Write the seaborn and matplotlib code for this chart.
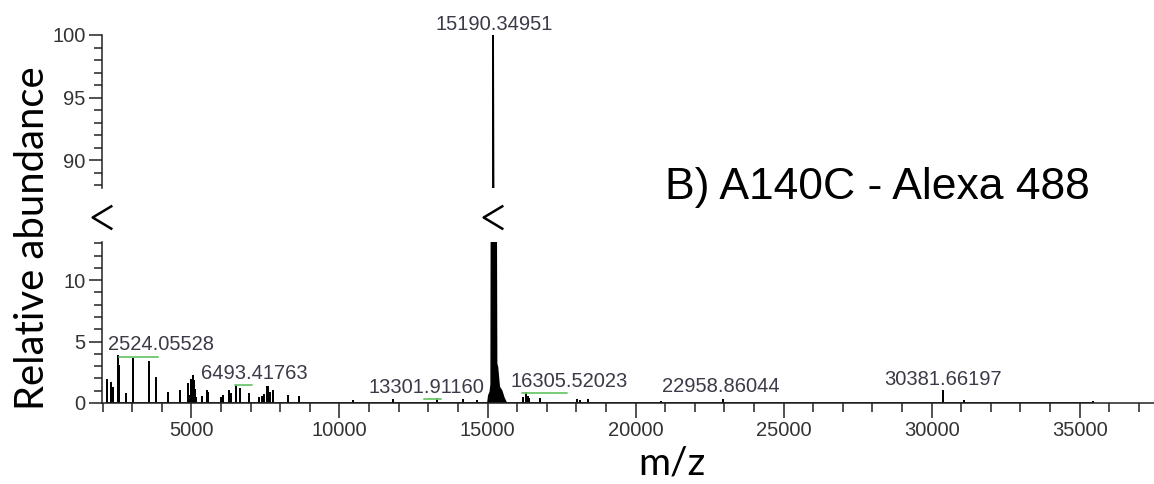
import numpy as np
import matplotlib
matplotlib.use("Agg")
import matplotlib.pyplot as plt
import seaborn as sns
from matplotlib.lines import Line2D
from matplotlib.path import Path
from matplotlib.ticker import MultipleLocator
from matplotlib import transforms

# ---- centroid sticks: m/z and relative abundance (%) ----
peak_mz = [2141, 2280, 2340, 2524.05528, 2568, 2793, 3018, 3580, 3806, 4222,
           4617, 4898, 4935, 4960, 4989, 5010, 5045, 5065, 5079, 5100, 5123,
           5150, 5349, 5518, 5552, 5991, 6079, 6272, 6328, 6493.41763, 6643,
           6947, 7285, 7375, 7454, 7545, 7599, 7640, 7768, 8274, 8646, 10470,
           11820, 13301.91160, 14185, 14657, 16190, 16305.52023, 16360, 16415,
           16775, 18014, 18126, 18406, 20851, 22958.86044, 30381.66197, 31093,
           35450]
peak_int = [1.9, 1.6, 1.25, 3.8, 3.0, 0.75, 3.55, 3.3, 2.05, 0.85,
            1.0, 1.55, 0.5, 0.6, 1.9, 0.7, 2.2, 0.9, 1.75, 0.6, 1.05,
            0.4, 0.5, 0.95, 0.85, 0.4, 0.55, 0.95, 0.75, 1.4, 1.15,
            0.75, 0.4, 0.5, 0.65, 1.27, 1.27, 0.8, 1.0, 0.6, 0.5, 0.2,
            0.25, 0.3, 0.25, 0.2, 0.4, 0.8, 0.5, 0.3,
            0.3, 0.25, 0.2, 0.25, 0.05, 0.25, 1.0, 0.2,
            0.08]

# ---- profile of the dominant deconvoluted peak ----
main_mz = [15010, 15040, 15090, 15120, 15185, 15190.34951, 15196, 15310,
           15340, 15400, 15480, 15560, 15640]
main_int = [0, 0.6, 0.9, 1.5, 99, 100, 99, 3.2, 2.9, 1.3, 1.0, 0.4, 0]

# ---- annotated peaks ----
label_mz = [2524.05528, 6493.41763, 13301.91160, 15190.34951, 16305.52023,
            22958.86044, 30381.66197]
label_x = [3975, 7129, 12925, 15214, 17767, 22887, 30385]
label_y = [4.28, 1.98, 0.83, 100.36, 1.30, 0.89, 1.50]
# character spans carrying a proofing underline
underline_spans = {0: (1, 5), 1: (3, 5), 2: (5, 7), 4: (1, 5)}

x_ticks_major, x_ticks_minor = 5000, 1000
x_range = (1980, 37510)
y_low = (0, 13.1)
y_high = (87.8, 100)

sns.set_style("ticks")
plt.rcParams["font.family"] = ["Liberation Sans", "DejaVu Sans"]

W, H = 1154, 484
fig = plt.figure(figsize=(W / 100, H / 100), dpi=100)
left = 102 / W
ax_top = fig.add_axes([left, 1 - 188 / H, 1 - left, 153 / H])
ax_bot = fig.add_axes([left, 1 - 403 / H, 1 - left, 161 / H])

# stick spectrum as a single polyline through the baseline
stick_x = np.repeat(np.asarray(peak_mz, float), 3)
stick_y = np.column_stack([np.zeros(len(peak_int)), peak_int,
                           np.zeros(len(peak_int))]).ravel()

for ax in (ax_top, ax_bot):
    sns.lineplot(x=stick_x, y=stick_y, sort=False, estimator=None,
                 color="black", lw=1.25, ax=ax)
    ax.fill_between(main_mz, main_int, 0, color="black", lw=0)
    sns.lineplot(x=main_mz, y=main_int, sort=False, estimator=None,
                 color="black", lw=1.0, ax=ax)
    ax.set_xlim(*x_range)
    ax.set_xlabel("")
    ax.set_ylabel("")
    ax.set_facecolor("none")
    for s in ("top", "right"):
        ax.spines[s].set_visible(False)
    ax.spines["left"].set_linewidth(1.1)
    ax.spines["left"].set_color("#222222")
    ax.yaxis.set_major_locator(MultipleLocator(5))
    ax.yaxis.set_minor_locator(MultipleLocator(1))
    ax.tick_params(axis="y", which="major", direction="out", length=9.5,
                   width=1.1, color="#222222", pad=2.2, labelsize=14.5,
                   labelcolor="#333333")
    ax.tick_params(axis="y", which="minor", direction="out", length=6,
                   width=1.1, color="#222222")

ax_top.set_ylim(*y_high)
ax_top.spines["bottom"].set_visible(False)
ax_top.tick_params(axis="x", which="both", bottom=False, labelbottom=False)

ax_bot.set_ylim(*y_low)
ax_bot.spines["bottom"].set_linewidth(1.1)
ax_bot.spines["bottom"].set_color("#222222")
ax_bot.xaxis.set_major_locator(MultipleLocator(x_ticks_major))
ax_bot.xaxis.set_minor_locator(MultipleLocator(x_ticks_minor))
ax_bot.tick_params(axis="x", which="major", direction="out", length=11,
                   width=1.1, color="#222222", pad=1.8, labelsize=14.5,
                   labelcolor="#333333")
ax_bot.tick_params(axis="x", which="minor", direction="out", length=6.5,
                   width=1.1, color="#222222")

# peak annotations
label_texts = []
for i, (mz, lx, ly) in enumerate(zip(label_mz, label_x, label_y)):
    target = ax_top if ly > y_low[1] else ax_bot
    t = target.text(lx, ly, f"{mz:.5f}", ha="center", va="baseline",
                    fontsize=14.5, color="#3a3a48", clip_on=False)
    label_texts.append(t)

# axis-break marks between the two panels
break_path = Path([(0.5, 0.6), (-0.5, 0.0), (0.5, -0.6)],
                  [Path.MOVETO, Path.LINETO, Path.LINETO])
y_gap = 0.5 * (ax_bot.get_position().y1 + ax_top.get_position().y0) - 2 / H
blend = transforms.blended_transform_factory(ax_bot.transData, fig.transFigure)
for xb in (x_range[0], main_mz[int(np.argmax(main_int))]):
    fig.add_artist(Line2D([xb], [y_gap], transform=blend, marker=break_path,
                          markersize=17, markerfacecolor="none",
                          markeredgecolor="black", markeredgewidth=1.8,
                          linestyle="none"))

# panel caption and axis titles
fig.text(877 / W, 1 - 187 / H, "B) A140C - Alexa 488", ha="center",
         va="center", fontsize=32, color="black")
fig.text(33 / W, 1 - 238.5 / H, "Relative abundance", rotation=90,
         ha="center", va="center", fontsize=28.8, family=["Lato", "DejaVu Sans"],
         color="black")
fig.text(672 / W, 1 - 463 / H, "m/z", ha="center", va="center", fontsize=28,
         family=["Lato", "DejaVu Sans"], color="black")

# green proofing underlines beneath parts of some annotations
fig.canvas.draw()
renderer = fig.canvas.get_renderer()
for idx, (c0, c1) in underline_spans.items():
    t = label_texts[idx]
    s = t.get_text()
    bb = t.get_window_extent(renderer)
    prop = t.get_fontproperties()
    w0 = renderer.get_text_width_height_descent(s[:c0], prop, ismath=False)[0] if c0 else 0
    w1 = renderer.get_text_width_height_descent(s[:c1], prop, ismath=False)[0]
    _, _, desc = renderer.get_text_width_height_descent(s, prop, ismath=False)
    yb = bb.y0 + desc - 2.4
    fig.add_artist(Line2D([bb.x0 + w0, bb.x0 + w1], [yb, yb],
                          transform=transforms.IdentityTransform(),
                          color="#6cc66c", lw=1.3))

fig.savefig("out.png", dpi=100)
